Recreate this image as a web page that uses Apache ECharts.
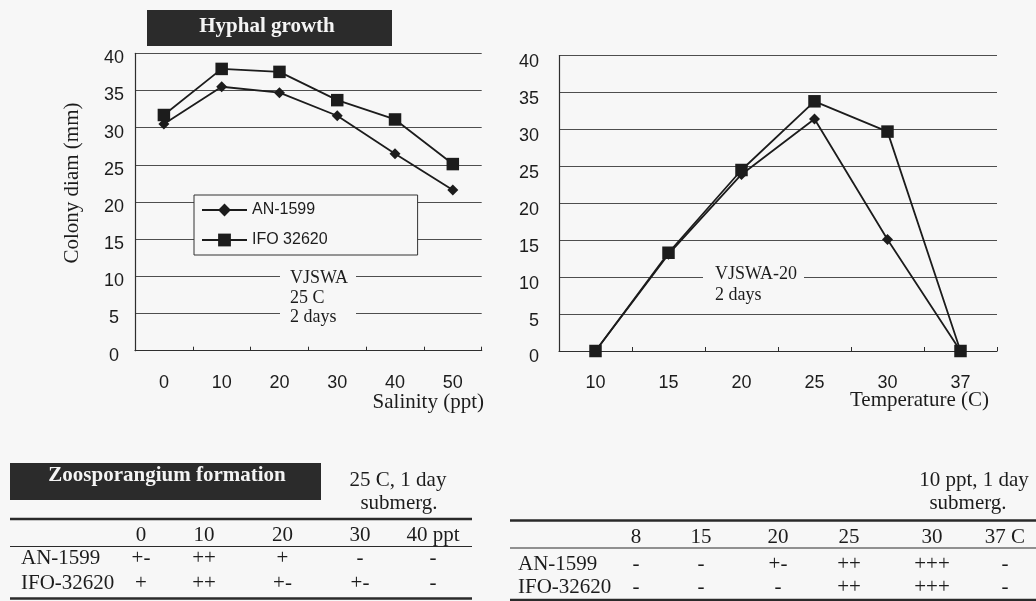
<!DOCTYPE html>
<html>
<head>
<meta charset="utf-8">
<script src="https://cdn.jsdelivr.net/npm/echarts@6/dist/echarts.min.js"></script>
<style>
html,body{margin:0;padding:0;background:#f7f7f7;}
#chart{width:1036px;height:601px;}
</style>
</head>
<body>
<div id="chart"></div>
<script>
// ---------- data ----------
const seriesNames = ['AN-1599', 'IFO 32620'];
const salinityCategories = ['0', '10', '20', '30', '40', '50'];
const tempCategories = ['10', '15', '20', '25', '30', '37'];
const an1599Salinity = [30.5, 35.5, 34.7, 31.6, 26.5, 21.6];
const ifo32620Salinity = [31.7, 37.9, 37.5, 33.7, 31.1, 25.1];
const an1599Temp = [0, 13.1, 23.9, 31.4, 15.1, 0];
const ifo32620Temp = [0, 13.3, 24.5, 33.8, 29.7, 0];

const zooRowLabels = ['AN-1599', 'IFO-32620'];
const zooSalinityHeader = ['0', '10', '20', '30', '40 ppt'];
const zooSalinityAN = ['+-', '++', '+', '-', '-'];
const zooSalinityIFO = ['+', '++', '+-', '+-', '-'];
const zooTempHeader = ['8', '15', '20', '25', '30', '37 C'];
const zooTempAN = ['-', '-', '+-', '++', '+++', '-'];
const zooTempIFO = ['-', '-', '-', '++', '+++', '-'];

const texts = {
  hyphalTitle: 'Hyphal growth',
  yName: 'Colony diam (mm)',
  xNameSalinity: 'Salinity (ppt)',
  xNameTemp: 'Temperature (C)',
  noteSalinity: 'VJSWA\n25 C\n2 days',
  noteTemp: 'VJSWA-20\n2 days',
  zooTitle: 'Zoosporangium formation',
  zooCond1: '25 C, 1 day',
  zooCond2: '10 ppt, 1 day',
  submerg: 'submerg.'
};

// ---------- styles ----------
const BG = '#f7f7f7';
const INK = '#1c1c1c';
const serif = '"Liberation Serif", "Times New Roman", serif';
const sans = '"Liberation Sans", Arial, sans-serif';

function txt(x, y, text, size, o) {
  o = o || {};
  return {
    type: 'text', x: x, y: y, z: o.z || 20, rotation: o.rotation || 0,
    style: Object.assign({
      text: text,
      font: (o.bold ? 'bold ' : '') + size + 'px ' + (o.family || serif),
      fill: o.fill || INK,
      align: o.align || 'center',
      verticalAlign: o.valign || 'middle'
    }, o.extra || {})
  };
}
function hline(x1, x2, y, w) {
  return { type: 'line', z: 20, shape: { x1: x1, y1: y, x2: x2, y2: y },
    style: { stroke: '#2a2a2a', lineWidth: w } };
}

const graphics = [];
// Hyphal growth title box
graphics.push({ type: 'rect', z: 15, shape: { x: 147, y: 10, width: 245, height: 36 }, style: { fill: '#2b2b2b' } });
graphics.push(txt(267, 27, texts.hyphalTitle, 21, { bold: true, fill: '#f4f4f4' }));
// axis names
graphics.push(txt(72, 183, texts.yName, 21, { rotation: Math.PI / 2 }));
graphics.push(txt(484, 402, texts.xNameSalinity, 21, { align: 'right' }));
graphics.push(txt(989, 400, texts.xNameTemp, 21, { align: 'right' }));
// annotations with background covering grid lines
graphics.push(txt(280, 267, texts.noteSalinity, 18, { align: 'left', valign: 'top',
  extra: { lineHeight: 19.5, backgroundColor: BG, padding: [2, 8, 2, 10] } }));
graphics.push(txt(703, 262, texts.noteTemp, 18, { align: 'left', valign: 'top',
  extra: { lineHeight: 21, backgroundColor: BG, padding: [2, 7, 2, 12] } }));

// Zoosporangium table 1 (salinity)
graphics.push({ type: 'rect', z: 15, shape: { x: 10, y: 463, width: 311, height: 37 }, style: { fill: '#2b2b2b' } });
graphics.push(txt(167, 476, texts.zooTitle, 21, { bold: true, fill: '#f4f4f4' }));
graphics.push(txt(398, 480, texts.zooCond1, 21));
graphics.push(txt(399, 503, texts.submerg, 21));
graphics.push(hline(10, 472, 519, 2.6));
graphics.push(hline(10, 472, 546.5, 1.2));
graphics.push(hline(10, 472, 598.5, 2.6));
const t1x = [141, 204, 282.5, 360, 433];
zooSalinityHeader.forEach((h, i) => graphics.push(txt(t1x[i], 535, h, 21)));
graphics.push(txt(21, 558, zooRowLabels[0], 21, { align: 'left' }));
graphics.push(txt(21, 583, zooRowLabels[1], 21, { align: 'left' }));
zooSalinityAN.forEach((v, i) => graphics.push(txt(t1x[i], 558, v, 21)));
zooSalinityIFO.forEach((v, i) => graphics.push(txt(t1x[i], 583, v, 21)));

// Zoosporangium table 2 (temperature)
graphics.push(txt(974, 480, texts.zooCond2, 21));
graphics.push(txt(968, 503, texts.submerg, 21));
graphics.push(hline(510, 1036, 520.5, 2.6));
graphics.push(hline(510, 1036, 548, 1.2));
graphics.push(hline(510, 1036, 600, 2.6));
const t2x = [636, 701, 778, 849, 932, 1005];
zooTempHeader.forEach((h, i) => graphics.push(txt(t2x[i], 537, h, 21)));
graphics.push(txt(518, 564, zooRowLabels[0], 21, { align: 'left' }));
graphics.push(txt(518, 587, zooRowLabels[1], 21, { align: 'left' }));
zooTempAN.forEach((v, i) => graphics.push(txt(t2x[i], 564, v, 21)));
zooTempIFO.forEach((v, i) => graphics.push(txt(t2x[i], 587, v, 21)));

function yAxisCfg(gi, margin, align, shift) {
  return {
    gridIndex: gi, type: 'value', min: 0, max: 40, interval: 5,
    axisLine: { show: true, lineStyle: { color: '#2e2e2e', width: 1.2 } },
    axisTick: { show: false },
    splitLine: { show: true, lineStyle: { color: '#4e4e4e', width: 1 } },
    axisLabel: { fontFamily: sans, fontSize: 18, color: INK, margin: margin, align: align,
      verticalAlign: 'top', lineHeight: 2 * shift }
  };
}
function xAxisCfg(gi, cats) {
  return {
    gridIndex: gi, type: 'category', data: cats, boundaryGap: true,
    axisLine: { show: true, lineStyle: { color: '#2e2e2e', width: 1.2 } },
    axisTick: { show: true, inside: true, length: 4, lineStyle: { color: '#2e2e2e' } },
    axisLabel: { fontFamily: sans, fontSize: 18, color: INK, margin: 23 },
    splitLine: { show: false }
  };
}
function lineSeries(name, xi, data, symbol, size) {
  return {
    type: 'line', name: name, xAxisIndex: xi, yAxisIndex: xi, data: data,
    symbol: symbol, symbolSize: size, z: 3,
    lineStyle: { color: INK, width: 1.8 },
    itemStyle: { color: INK, borderWidth: 0 }
  };
}

const chart = echarts.init(document.getElementById('chart'), null, { renderer: 'canvas' });
chart.setOption({
  animation: false,
  backgroundColor: BG,
  grid: [
    { left: 135, top: 53.3, width: 346.7, height: 297.4 },
    { left: 559, top: 55.5, width: 438, height: 295.5 }
  ],
  xAxis: [xAxisCfg(0, salinityCategories), xAxisCfg(1, tempCategories)],
  yAxis: [yAxisCfg(0, 21, 'center', 5), yAxisCfg(1, 20, 'right', 6.5)],
  legend: {
    data: seriesNames, orient: 'vertical', left: 194, top: 195,
    padding: [7, 90, 7, 7], itemWidth: 45, itemHeight: 16, itemGap: 14,
    backgroundColor: BG, borderColor: '#333', borderWidth: 1, borderRadius: 0,
    textStyle: { fontFamily: sans, fontSize: 16, color: INK }
  },
  series: [
    lineSeries(seriesNames[0], 0, an1599Salinity, 'diamond', 11),
    lineSeries(seriesNames[1], 0, ifo32620Salinity, 'rect', 12.5),
    lineSeries(seriesNames[0], 1, an1599Temp, 'diamond', 11),
    lineSeries(seriesNames[1], 1, ifo32620Temp, 'rect', 12.5)
  ],
  graphic: graphics
});
</script>
</body>
</html>
